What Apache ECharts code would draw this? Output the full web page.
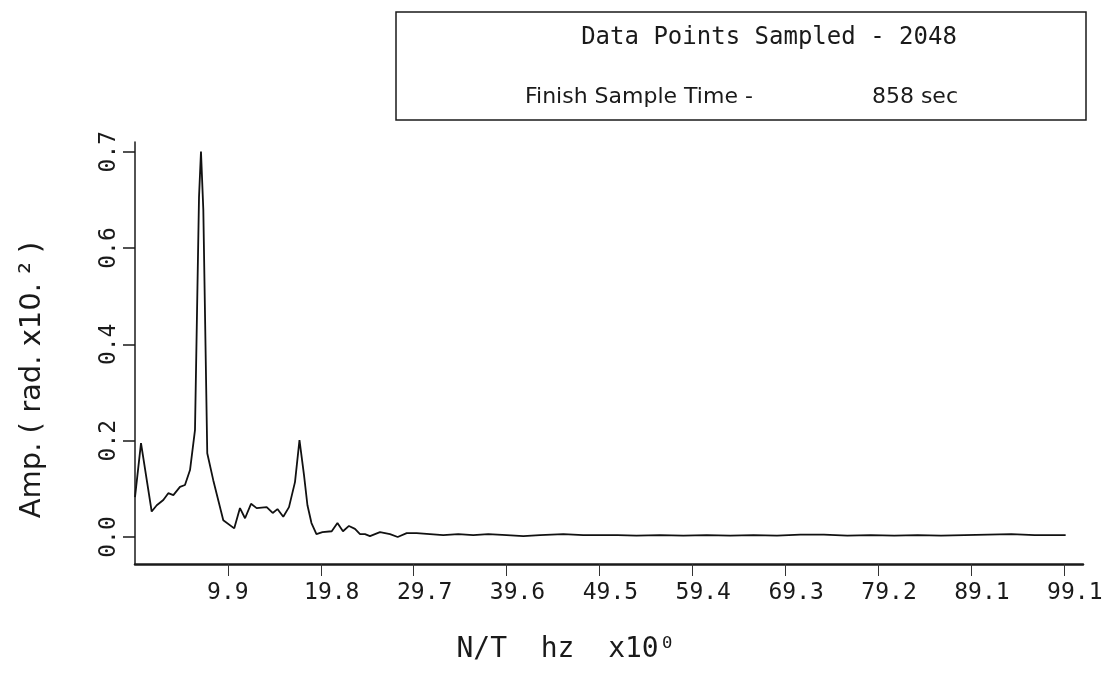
<!DOCTYPE html>
<html><head><meta charset="utf-8">
<script src="https://cdn.jsdelivr.net/npm/echarts@6/dist/echarts.min.js"></script>
<style>html,body{margin:0;padding:0;background:#fff}#c{width:1107px;height:675px}</style>
</head><body><div id="c"></div>
<script>
const freq = [0, 0.64, 1.78, 2.32, 3.02, 3.55, 4.09, 4.80, 5.33, 5.87, 6.40, 6.83, 7.04, 7.29, 7.71, 8.35, 9.42, 10.59,
  11.20, 11.74, 12.38, 12.98, 14.05, 14.69, 15.20, 15.82, 16.43, 17.07, 17.55, 18.03, 18.40, 18.83, 19.36, 20.00,
  20.99, 21.60, 22.19, 22.83, 23.47, 24.01, 24.54, 25.07, 26.14, 27.21, 28.03, 28.99, 30.05, 31.47, 32.89, 34.49,
  36.09, 37.69, 39.66, 41.43, 43.21, 45.70, 47.83, 49.61, 51.5, 53.5, 56.0, 58.5, 61.0, 63.5, 66.0, 68.5, 71.0,
  73.5, 76.0, 78.5, 81.0, 83.5, 86.0, 88.5, 91.0, 93.5, 96.0, 99.3];
const amp = [0.083, 0.195, 0.053, 0.066, 0.077, 0.091, 0.087, 0.104, 0.108, 0.139, 0.222, 0.706, 0.800, 0.679, 0.174, 0.118, 0.035, 0.018,
  0.060, 0.039, 0.069, 0.060, 0.062, 0.050, 0.058, 0.042, 0.062, 0.114, 0.201, 0.129, 0.066, 0.029, 0.006, 0.010,
  0.012, 0.029, 0.012, 0.023, 0.017, 0.006, 0.006, 0.002, 0.010, 0.006, 0.000, 0.008, 0.008, 0.006, 0.004, 0.006,
  0.004, 0.006, 0.004, 0.002, 0.004, 0.006, 0.004, 0.004, 0.004, 0.003, 0.004, 0.003, 0.004, 0.003, 0.004, 0.003, 0.005,
  0.005, 0.003, 0.004, 0.003, 0.004, 0.003, 0.004, 0.005, 0.006, 0.004, 0.004];
const xTickValues = [9.91, 19.82, 29.73, 39.64, 49.55, 59.46, 69.37, 79.28, 89.19, 99.1];
const xTickLabels = ["9.9", "19.8", "29.7", "39.6", "49.5", "59.4", "69.3", "79.2", "89.1", "99.1"];
const yTickValues = [0, 0.2, 0.4, 0.6, 0.8];
const yTickLabels = ["0.0", "0.2", "0.4", "0.6", "0.7"];
const titleLine1 = "Data Points Sampled - 2048";
const titleLine2 = "Finish Sample Time -";
const titleValue = "858 sec";
const xName = "N/T  hz  x10\u2070";
const yName = "Amp. ( rad. x10. \u00b2 )";

function nearestIdx(arr, v) {
  let b = 0;
  for (let i = 1; i < arr.length; i++) if (Math.abs(arr[i] - v) < Math.abs(arr[b] - v)) b = i;
  return b;
}
const mono = "DejaVu Sans Mono";
const ink = "#1a1a1a";
const chart = echarts.init(document.getElementById('c'), null, {renderer: 'canvas'});
chart.setOption({
  backgroundColor: '#fff',
  animation: false,
  grid: {left: 135, right: 24, top: 142, bottom: 111, containLabel: false},
  xAxis: {
    type: 'value', min: 0, max: 101.15,
    name: xName, nameLocation: 'middle', nameGap: 72,
    nameTextStyle: {fontFamily: mono, fontSize: 28, color: ink, padding: [0, 86, 0, 0]},
    axisLine: {show: true, onZero: false, lineStyle: {color: ink, width: 2.5}},
    axisTick: {show: true, inside: false, length: 12, customValues: xTickValues, lineStyle: {color: '#333', width: 1}},
    axisLabel: {
      show: true, margin: 18, customValues: xTickValues,
      formatter: function (v) {
        const s = xTickLabels[nearestIdx(xTickValues, v)];
        return s.length > 3 ? '{w|' + s + '}' : '{n|' + s + '}';
      },
      rich: {
        w: {fontFamily: mono, fontSize: 23, color: ink, padding: [0, 0, 0, 22]},
        n: {fontFamily: mono, fontSize: 23, color: ink}
      }
    },
    splitLine: {show: false}
  },
  yAxis: {
    type: 'value', min: -0.056, max: 0.82,
    name: yName, nameLocation: 'middle', nameGap: 88, nameRotate: 90,
    nameTextStyle: {fontFamily: 'DejaVu Sans', fontSize: 29, color: ink, padding: [0, 54, 0, 0]},
    axisLine: {show: true, onZero: false, lineStyle: {color: ink, width: 1.5}},
    axisTick: {show: true, inside: false, length: 12, customValues: yTickValues, lineStyle: {color: ink, width: 1.5}},
    axisLabel: {
      show: true, margin: 14, rotate: 90, customValues: yTickValues,
      fontFamily: mono, fontSize: 23, color: ink,
      formatter: function (v) { return yTickLabels[nearestIdx(yTickValues, v)]; }
    },
    splitLine: {show: false}
  },
  series: [{
    type: 'line',
    data: freq.map((f, i) => [f, amp[i]]),
    showSymbol: false, symbol: 'none',
    lineStyle: {color: '#111', width: 1.8},
    smooth: false
  }],
  graphic: [
    {type: 'rect', shape: {x: 396, y: 12, width: 690, height: 108}, style: {fill: 'none', stroke: ink, lineWidth: 1.5}},
    {type: 'text', x: 769, y: 38, style: {text: titleLine1, fontFamily: mono, fontSize: 24, fill: ink, textAlign: 'center', textVerticalAlign: 'middle'}},
    {type: 'text', x: 525, y: 97, style: {text: titleLine2, fontFamily: 'DejaVu Sans', fontSize: 22, fill: ink, textAlign: 'left', textVerticalAlign: 'middle'}},
    {type: 'text', x: 958, y: 97, style: {text: titleValue, fontFamily: 'DejaVu Sans', fontSize: 22, fill: ink, textAlign: 'right', textVerticalAlign: 'middle'}}
  ]
});
</script>
</body></html>
